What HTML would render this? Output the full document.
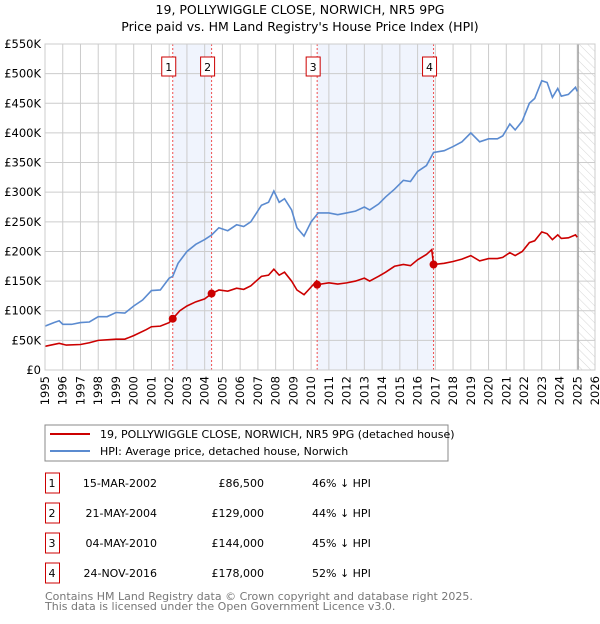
<!DOCTYPE html>
<html><head><meta charset="utf-8"><style>
body{margin:0;background:#fff;font-family:"DejaVu Sans","Liberation Sans",sans-serif;}
svg text{font-family:"DejaVu Sans","Liberation Sans",sans-serif;}
</style></head><body>
<svg id="chart" width="600" height="620" viewBox="0 0 600 620" xmlns="http://www.w3.org/2000/svg">
<defs><pattern id="hatch" width="6" height="6" patternUnits="userSpaceOnUse" patternTransform="rotate(-45)"><line x1="0" y1="0" x2="0" y2="6" stroke="#d6d6d6" stroke-width="1"/></pattern></defs>
<text x="300" y="14" text-anchor="middle" font-size="12.5">19, POLLYWIGGLE CLOSE, NORWICH, NR5 9PG</text>
<text x="300" y="31" text-anchor="middle" font-size="12.5">Price paid vs. HM Land Registry's House Price Index (HPI)</text>
<g id="plot"></g>
<g>
<rect x="45" y="425" width="403" height="36" fill="#fff" stroke="#888"/>
<line x1="50" y1="434" x2="90" y2="434" stroke="#cc0000" stroke-width="2"/>
<text x="100" y="438" font-size="11">19, POLLYWIGGLE CLOSE, NORWICH, NR5 9PG (detached house)</text>
<line x1="50" y1="451" x2="90" y2="451" stroke="#5b8bd0" stroke-width="2"/>
<text x="100" y="455" font-size="11">HPI: Average price, detached house, Norwich</text>
</g>
<g id="table" font-size="11"></g>
<text x="45" y="600" font-size="11" fill="#777">Contains HM Land Registry data © Crown copyright and database right 2025.</text>
<text x="45" y="610" font-size="11" fill="#777">This data is licensed under the Open Government Licence v3.0.</text>
</svg>
<script>
const hpiYears=[1995,1995.5,1995.8,1996,1996.5,1997,1997.5,1998,1998.5,1999,1999.5,2000,2000.5,2001,2001.5,2002,2002.2,2002.5,2003,2003.5,2004,2004.4,2004.8,2005.3,2005.8,2006.2,2006.6,2007.2,2007.6,2007.9,2008.2,2008.5,2008.9,2009.2,2009.6,2010,2010.4,2011,2011.5,2012,2012.5,2013,2013.3,2013.8,2014.2,2014.7,2015.2,2015.6,2016,2016.5,2016.9,2017.5,2018,2018.5,2019,2019.5,2020,2020.5,2020.8,2021.2,2021.5,2021.9,2022.3,2022.6,2023,2023.3,2023.6,2023.9,2024.1,2024.5,2024.9,2025];
const hpiValues=[74,80,83,77,77,80,81,90,90,97,96,108,118,134,135,155,158,180,200,212,220,228,240,235,245,242,250,278,283,302,283,289,270,240,226,250,265,265,262,265,268,275,270,280,292,305,320,318,335,345,367,370,377,385,400,385,390,390,395,415,405,420,450,458,488,485,460,475,462,465,477,470];
const paidYears=[1995,1995.8,1996.2,1997,1997.5,1998,1999,1999.5,2000,2000.7,2001,2001.5,2002,2002.2,2002.6,2003,2003.5,2004,2004.4,2004.8,2005.3,2005.8,2006.2,2006.6,2007.2,2007.6,2007.9,2008.2,2008.5,2008.9,2009.2,2009.6,2010,2010.3,2010.35,2011,2011.5,2012,2012.5,2013,2013.3,2013.8,2014.2,2014.7,2015.2,2015.6,2016,2016.5,2016.8,2016.9,2017.5,2018,2018.5,2019,2019.5,2020,2020.5,2020.8,2021.2,2021.5,2021.9,2022.3,2022.6,2023,2023.3,2023.6,2023.9,2024.1,2024.5,2024.9,2025];
const paidValues=[40,45,42,43,46,50,52,52,58,68,73,74,80,86.5,100,108,115,120,129,135,133,138,136,142,158,160,170,160,165,150,135,127,140,150,144,147,145,147,150,155,150,158,165,175,178,176,186,195,203,178,180,183,187,193,184,188,188,190,198,193,200,215,218,233,230,220,228,222,223,228,224];
const saleYears=[2002.2,2004.39,2010.34,2016.9];
const saleValues=[86.5,129,144,178];
const saleLabels=["1","2","3","4"];
const saleDates=["15-MAR-2002","21-MAY-2004","04-MAY-2010","24-NOV-2016"];
const salePrices=["£86,500","£129,000","£144,000","£178,000"];
const saleHpi=["46% ↓ HPI","44% ↓ HPI","45% ↓ HPI","52% ↓ HPI"];
const yTicks=[0,50,100,150,200,250,300,350,400,450,500,550];
const yTickLabels=["£0","£50K","£100K","£150K","£200K","£250K","£300K","£350K","£400K","£450K","£500K","£550K"];
const xStart=1995,xEnd=2026,forecastStart=2025.05;

const NS="http://www.w3.org/2000/svg";
const L=45,R=595,T=44,B=370;
const X=y=>L+(y-xStart)/(xEnd-xStart)*(R-L);
const Y=v=>B-v/550*(B-T);
function mk(tag,attrs,parent){const e=document.createElementNS(NS,tag);for(const k in attrs)e.setAttribute(k,attrs[k]);parent.appendChild(e);return e;}
const g=document.getElementById('plot');
for(let i=0;i<4;i+=2){const r=mk('rect',{x:X(saleYears[i]),y:T,width:X(saleYears[i+1])-X(saleYears[i]),height:B-T,fill:'#f0f4fd'},g);

}
const h=mk('rect',{x:X(forecastStart),y:T,width:R-X(forecastStart),height:B-T,fill:'url(#hatch)'},g);


for(let yr=xStart;yr<=xEnd;yr++){const l=mk('line',{x1:X(yr),x2:X(yr),y1:T,y2:B,stroke:'#ccc','stroke-width':1},g);


const t=mk('text',{x:0,y:0,'font-size':11.5,'text-anchor':'end',transform:`translate(${X(yr)+4},${B+6}) rotate(-90)`},g);
t.textContent=yr;

}
yTicks.forEach((v,i)=>{const l=mk('line',{x1:L,x2:R,y1:Y(v),y2:Y(v),stroke:'#ccc','stroke-width':1},g);


const t=mk('text',{x:L-4,y:Y(v)+4,'font-size':11.5,'text-anchor':'end'},g);
t.textContent=yTickLabels[i];

});
const fl=mk('line',{x1:X(forecastStart),x2:X(forecastStart),y1:T,y2:B,stroke:'#999','stroke-width':1.2},g);


saleYears.forEach((yr,i)=>{const l=mk('line',{x1:X(yr),x2:X(yr),y1:T,y2:B,stroke:'#f05050','stroke-width':1,'stroke-dasharray':'2,2'},g);


const bx=mk('rect',{x:X(yr)-11,y:57,width:14,height:19,fill:'#fff',stroke:'#cc0000'},g);


const t=mk('text',{x:X(yr)-4,y:71,'font-size':11,'text-anchor':'middle'},g);
t.textContent=saleLabels[i];

});
const hp=mk('polyline',{points:hpiYears.map((y,i)=>X(y)+','+Y(hpiValues[i])).join(' '),fill:'none',stroke:'#5b8bd0','stroke-width':1.6},g);


const pp=mk('polyline',{points:paidYears.map((y,i)=>X(y)+','+Y(paidValues[i])).join(' '),fill:'none',stroke:'#cc0000','stroke-width':1.6},g);


saleYears.forEach((yr,i)=>{const c=mk('circle',{cx:X(yr),cy:Y(saleValues[i]),r:4,fill:'#cc0000'},g);

});
const ax=mk('rect',{x:L,y:T,width:R-L,height:B-T,fill:'none',stroke:'#ccc'},g);


const tb=document.getElementById('table');
saleLabels.forEach((s,i)=>{const cy=483+i*30;
const bx=mk('rect',{x:45.5,y:cy-10,width:14,height:20,fill:'#fff',stroke:'#cc0000'},tb);


const cells=[[52,'middle',s],[157,'end',saleDates[i]],[264,'end',salePrices[i]],[312,'start',saleHpi[i]]];
cells.forEach(c=>{const t=mk('text',{x:c[0],y:cy+4,'text-anchor':c[1]},tb);t.textContent=c[2];

});});
</script>
</body></html>
